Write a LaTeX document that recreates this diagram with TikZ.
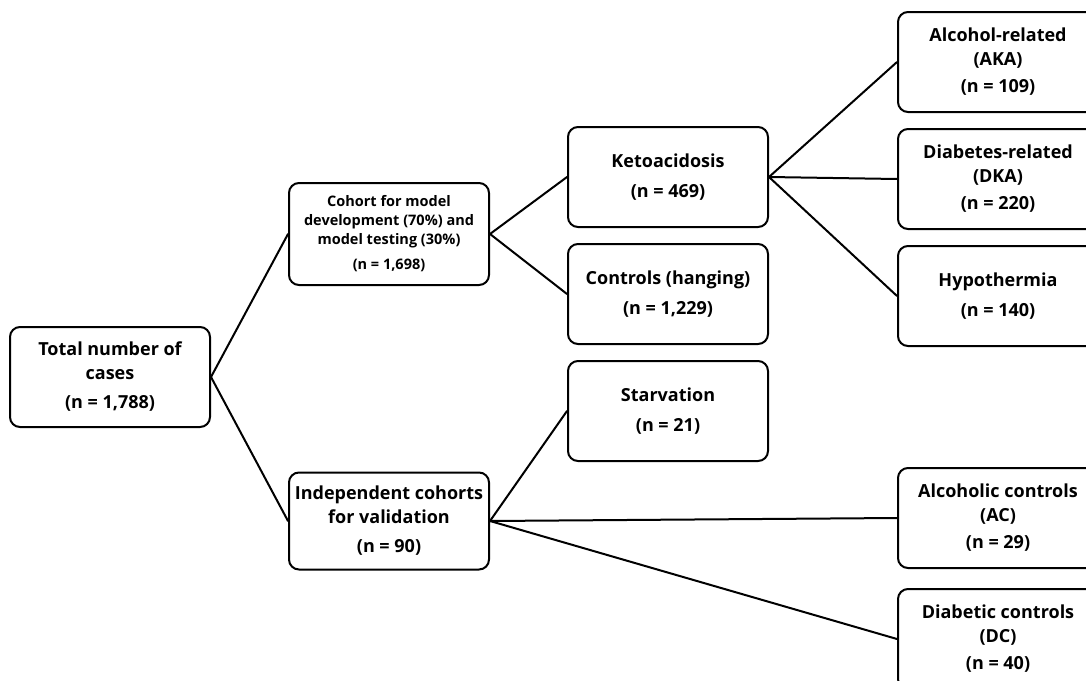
\documentclass[tikz,border=0pt]{standalone}
\usepackage{fontspec}
\setmainfont{Open Sans}
\usepackage{tikz}
\usetikzlibrary{positioning}

\begin{document}
\begin{tikzpicture}
 [ x=1pt
 , y=-1pt
 , node distance=15pt
 , case/.style={draw, line width=2pt, rounded corners=10pt, fill=white, minimum width=200pt, minimum height=100pt, inner xsep=2pt, align=center, font=\bfseries\fontsize{18}{24}\selectfont}
 , small case/.style={case, minimum height=102pt, font=\bfseries\fontsize{14.5}{19}\selectfont}
 , link/.style={line width=2pt, line cap=round}
 ]
  \useasboundingbox [fill=white] (0,0) rectangle (1086,680);
  \clip (0,0) rectangle (1086,680);

  % first column and the two cohorts
  \node [case] (total) at (110,377) {Total number of\\cases\\[5pt](n = 1,788)};
  \node [small case] (cohort) at (389,234) {Cohort for model\\development (70\%) and\\model testing (30\%)\\[6pt](n = 1,698)};
  \node [case, minimum height=97pt] (valid) at (389,521) {Independent cohorts\\for validation\\[5pt](n = 90)};

  % middle column
  \node [case] (keto) at (668,177) {Ketoacidosis\\[6pt](n = 469)};
  \node [case, below=of keto] (hanging) {Controls (hanging)\\[6pt](n = 1,229)};
  \node [case, below=of hanging] (starv) {Starvation\\[6pt](n = 21)};

  % right column
  \node [case] (aka) at (998,62) {Alcohol-related\\(AKA)\\[3pt](n = 109)};
  \node [case, below=of aka] (dka) {Diabetes-related\\(DKA)\\[3pt](n = 220)};
  \node [case, below=of dka] (hypo) {Hypothermia\\[6pt](n = 140)};
  \node [case] (ac) at (998,518) {Alcoholic controls\\(AC)\\[3pt](n = 29)};
  \node [case, below=19pt of ac] (dc) {Diabetic controls\\(DC)\\[3pt](n = 40)};

  \draw [link] (total.east) -- (cohort.west);
  \draw [link] (total.east) -- (valid.west);
  \draw [link] (cohort.east) -- (keto.west);
  \draw [link] (cohort.east) -- (hanging.west);
  \draw [link] (keto.east) -- (aka.west);
  \draw [link] (keto.east) -- (dka.west);
  \draw [link] (keto.east) -- (hypo.west);
  \draw [link] (valid.east) -- (starv.west);
  \draw [link] (valid.east) -- (ac.west);
  \draw [link] (valid.east) -- (dc.west);
\end{tikzpicture}
\end{document}
